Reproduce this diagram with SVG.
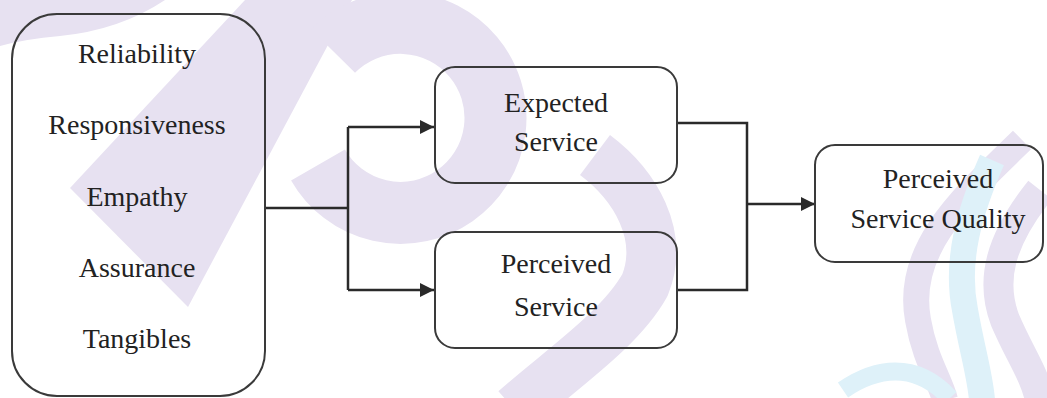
<svg xmlns="http://www.w3.org/2000/svg" width="1047" height="398" viewBox="0 0 1047 398">
<style>
.wf{fill:#e7e1f1;stroke:none}
.wm{fill:none;stroke:#e7e1f1;stroke-linecap:butt}
.wb{fill:none;stroke:#def1f9;stroke-linecap:butt}
.box{fill:none;stroke:#3a3a3a;stroke-width:2}
.lbl{font-family:"Liberation Serif","Times New Roman",serif;font-size:28px;fill:#222;text-anchor:middle}
.conn{fill:none;stroke:#2a2a2a;stroke-width:2.5}
</style>
<defs>
<marker id="arr" viewBox="0 0 14 14" refX="14" refY="7" markerWidth="14" markerHeight="14" markerUnits="userSpaceOnUse" orient="auto">
<path d="M0,0 L14,7 L0,14 Z" fill="#2a2a2a"/>
</marker>
</defs>
<rect width="1047" height="398" fill="#ffffff"/>
<g id="watermark">
<path class="wf" d="M0,0 L165,0 Q120,30 60,36 Q25,39 0,46 Z"/>
<path class="wf" d="M70,188 L245,0 L352,0 L188,307 Z"/>
<path class="wm" stroke-width="62" d="M318,165 A95,95 0 1 0 333,51"/>
<path class="wm" stroke-width="50" d="M595,155 C635,185 665,235 645,285 C620,330 560,370 515,410"/>
<path class="wm" stroke-width="26" d="M1022,140 C960,200 905,250 918,320 C925,360 940,380 945,400"/>
<path class="wm" stroke-width="30" d="M1040,190 C1000,240 990,280 1005,320 C1020,355 1035,375 1040,400"/>
<path class="wb" stroke-width="26" d="M992,160 C970,210 955,260 965,310 C972,350 980,375 982,400"/>
<path class="wb" stroke-width="18" d="M843,390 C875,368 915,360 950,398"/>
</g>
<g id="connectors">
<path class="conn" d="M265,208 H348"/>
<path class="conn" d="M348,127 V290"/>
<path class="conn" d="M348,127 H434" marker-end="url(#arr)"/>
<path class="conn" d="M348,290 H434" marker-end="url(#arr)"/>
<path class="conn" d="M677,123 H747 V290 H677"/>
<path class="conn" d="M747,204 H815" marker-end="url(#arr)"/>
</g>
<g id="dimensions">
<rect class="box" x="12" y="14" width="253" height="382" rx="45"/>
<text class="lbl" x="137" y="63">Reliability</text>
<text class="lbl" x="137" y="134">Responsiveness</text>
<text class="lbl" x="137" y="206">Empathy</text>
<text class="lbl" x="137" y="277">Assurance</text>
<text class="lbl" x="137" y="348">Tangibles</text>
</g>
<g id="expected-service">
<rect class="box" x="435" y="67" width="242" height="116" rx="20"/>
<text class="lbl" x="556" y="112">Expected</text>
<text class="lbl" x="556" y="151">Service</text>
</g>
<g id="perceived-service">
<rect class="box" x="435" y="232" width="242" height="116" rx="20"/>
<text class="lbl" x="556" y="273">Perceived</text>
<text class="lbl" x="556" y="316">Service</text>
</g>
<g id="perceived-service-quality">
<rect class="box" x="815" y="145" width="228" height="117" rx="20"/>
<text class="lbl" x="938" y="188">Perceived</text>
<text class="lbl" x="938" y="228">Service Quality</text>
</g>
</svg>
